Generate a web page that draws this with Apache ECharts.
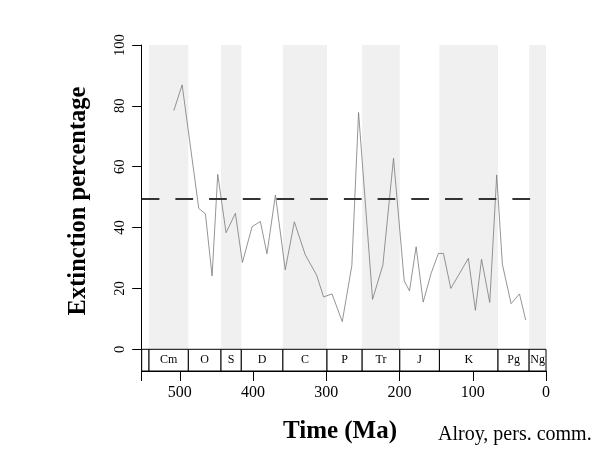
<!DOCTYPE html>
<html>
<head>
<meta charset="utf-8">
<script src="https://cdn.jsdelivr.net/npm/echarts@6/dist/echarts.min.js"></script>
<style>html,body{margin:0;padding:0;background:#fff}#c{width:600px;height:450px}</style>
</head>
<body>
<div id="c"></div>
<script>
// Ages (Ma) and extinction percentages
const ages = [508.2, 496.8, 474.1, 465.0, 455.9, 448.2, 436.8, 424.1, 414.5, 401.3, 390.0, 381.0, 369.4, 356.0, 343.6, 328.6, 313.2, 303.7, 292.2, 278.2, 265.1, 255.9, 236.8, 222.7, 208.2, 193.6, 186.4, 177.3, 167.7, 156.8, 146.9, 140.0, 130.0, 106.0, 96.4, 88.0, 76.8, 67.3, 59.6, 47.7, 36.2, 27.7];
const extinction = [78.4, 86.9, 46.3, 44.5, 24.1, 57.5, 38.3, 44.7, 28.5, 40.3, 42.0, 31.4, 50.7, 26.1, 41.9, 31.0, 24.4, 17.2, 18.2, 9.1, 27.5, 77.8, 16.4, 27.7, 62.8, 22.5, 19.2, 33.7, 15.5, 25.0, 31.5, 31.5, 20.0, 29.9, 12.8, 29.6, 15.4, 57.3, 28.0, 15.0, 18.2, 9.6];
const meanLevel = 49.4;

// Geologic periods
const periodNames = ['', 'Cm', 'O', 'S', 'D', 'C', 'P', 'Tr', 'J', 'K', 'Pg', 'Ng'];
const periodStart = [552, 542, 488.3, 443.7, 416, 359.2, 299, 251, 199.6, 145.5, 65.5, 23.03];
const periodEnd = [542, 488.3, 443.7, 416, 359.2, 299, 251, 199.6, 145.5, 65.5, 23.03, 0];
const shadedPeriods = ['Cm', 'S', 'C', 'Tr', 'K', 'Ng'];

const xTicks = [0, 100, 200, 300, 400, 500];
const xMax = 552;

const serif = '"Liberation Serif", "DejaVu Serif", serif';
const L = 141.7, W = 404.3, T = 45, H = 304.3, H2 = 21.7;

const bands = [];
const boxes = [];
periodNames.forEach((n, i) => {
  boxes.push([periodStart[i], periodEnd[i], n]);
  if (shadedPeriods.indexOf(n) >= 0) bands.push([periodStart[i], periodEnd[i]]);
});

const chart = echarts.init(document.getElementById('c'), null, {renderer: 'canvas'});
chart.setOption({
  animation: false,
  backgroundColor: '#fff',
  grid: [
    {left: L, top: T, width: W, height: H},
    {left: L, top: T + H, width: W, height: H2}
  ],
  xAxis: [
    {gridIndex: 0, type: 'value', inverse: true, min: 0, max: xMax, show: false, splitLine: {show: false}},
    {gridIndex: 1, type: 'value', inverse: true, min: 0, max: xMax, interval: 100, position: 'bottom',
     axisLine: {show: true, onZero: false, lineStyle: {color: '#000', width: 1}},
     axisTick: {show: true, length: 10, lineStyle: {color: '#000', width: 1}},
     axisLabel: {color: '#000', fontFamily: serif, fontSize: 16, margin: 14,
       formatter: v => (xTicks.indexOf(v) >= 0 ? String(v) : '')},
     splitLine: {show: false}}
  ],
  yAxis: [
    {gridIndex: 0, type: 'value', min: 0, max: 100, interval: 20, position: 'left',
     axisLine: {show: true, onZero: false, lineStyle: {color: '#000', width: 1}},
     axisTick: {show: true, length: 9.5, lineStyle: {color: '#000', width: 1}},
     axisLabel: {color: '#000', fontFamily: serif, fontSize: 14.5, margin: 14, rotate: 90},
     splitLine: {show: false}},
    {gridIndex: 1, type: 'value', min: 0, max: 1, position: 'left',
     axisLine: {show: true, onZero: false, lineStyle: {color: '#000', width: 1}},
     axisTick: {show: false}, axisLabel: {show: false}, splitLine: {show: false}}
  ],
  series: [
    {
      type: 'custom', xAxisIndex: 0, yAxisIndex: 0, z: 1,
      data: bands,
      encode: {x: [0, 1]},
      renderItem: function (params, api) {
        const p0 = api.coord([api.value(0), 100]);
        const p1 = api.coord([api.value(1), 0]);
        return {type: 'rect', shape: {x: Math.min(p0[0], p1[0]), y: p0[1], width: Math.abs(p1[0] - p0[0]), height: p1[1] - p0[1]},
                style: {fill: '#f0f0f0'}};
      }
    },
    {
      type: 'line', xAxisIndex: 0, yAxisIndex: 0, z: 3,
      data: ages.map((a, i) => [a, extinction[i]]),
      symbol: 'none', lineStyle: {color: '#7a7a7a', width: 0.8},
      markLine: {
        silent: true, symbol: 'none', label: {show: false},
        lineStyle: {color: '#333', width: 2, type: [17.7, 16]},
        data: [[{coord: [xMax, meanLevel]}, {coord: [0, meanLevel]}]]
      }
    },
    {
      type: 'custom', xAxisIndex: 1, yAxisIndex: 1, z: 2,
      data: boxes,
      encode: {x: [0, 1]},
      renderItem: function (params, api) {
        const s = boxes[params.dataIndex];
        const p0 = api.coord([s[0], 1]);
        const p1 = api.coord([s[1], 0]);
        const x = Math.min(p0[0], p1[0]);
        const w = Math.abs(p1[0] - p0[0]);
        return {type: 'group', children: [
          {type: 'rect', shape: {x: x, y: p0[1], width: w, height: p1[1] - p0[1]},
           style: {fill: '#fff', stroke: '#000', lineWidth: 1}},
          {type: 'text', x: x + w / 2, y: (p0[1] + p1[1]) / 2,
           style: {text: s[2], fill: '#000', font: '12px ' + serif, align: 'center', verticalAlign: 'middle'}}
        ]};
      }
    }
  ],
  graphic: [
    {type: 'text', x: 79, y: 201, rotation: Math.PI / 2,
     style: {text: 'Extinction percentage', fill: '#000', font: 'bold 24.5px ' + serif, align: 'center', verticalAlign: 'middle'}},
    {type: 'text', x: 340, y: 432,
     style: {text: 'Time (Ma)', fill: '#000', font: 'bold 25px ' + serif, align: 'center', verticalAlign: 'middle'}},
    {type: 'text', left: 438, top: 425, style: {text: 'Alroy, pers. comm.', fill: '#000', font: '20px ' + serif}}
  ]
});
</script>
</body>
</html>
